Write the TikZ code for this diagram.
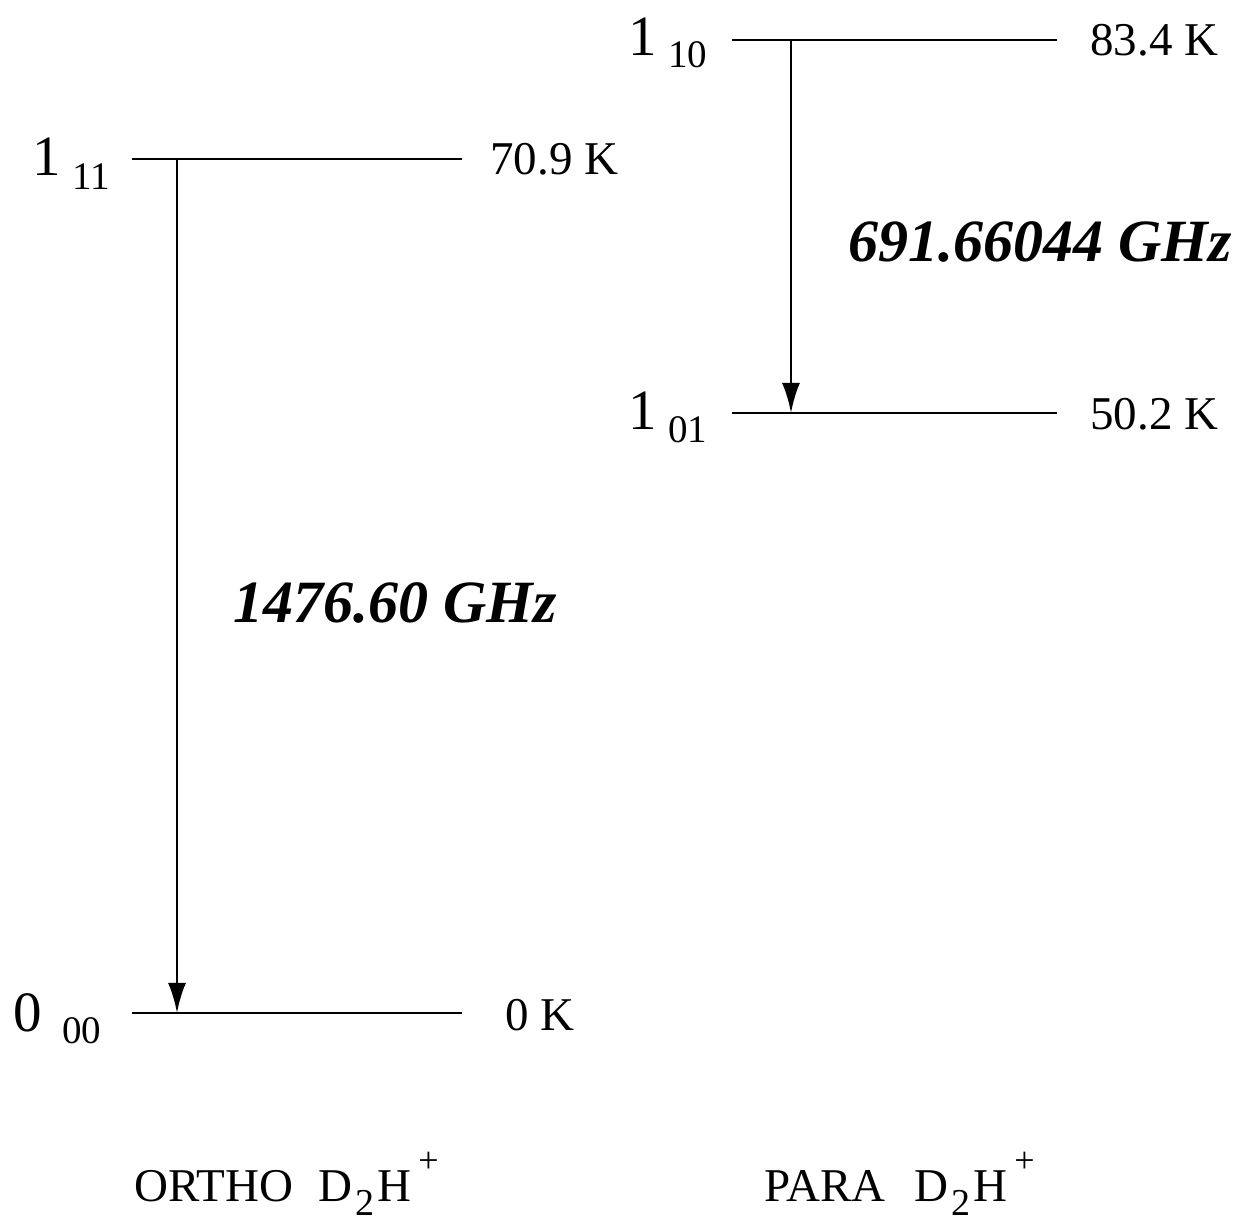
\documentclass[tikz,border=0pt]{standalone}
\usepackage{fontspec}
\setmainfont{Liberation Serif}
\usetikzlibrary{arrows.meta, positioning}

\newcommand{\dtwoh}{D\kern1.5pt\raisebox{-0.28em}{\fontsize{19}{20}\selectfont 2}\kern1.5pt H\kern3.5pt\raisebox{0.62em}{\fontsize{18}{20}\selectfont +}}

\begin{document}
\begin{tikzpicture}[x=0.5pt, y=-0.5pt, >={Latex[length=15pt, width=9pt]},
    level/.style={line width=1pt},
    trans/.style={->, line width=1.4pt},
    temp/.style={anchor=west, inner sep=0pt, font=\fontsize{23.5}{28}\selectfont},
    jbig/.style={anchor=base east, inner sep=0pt, font=\fontsize{28.5}{32}\selectfont},
    jsub/.style={anchor=base west, inner sep=0pt, font=\fontsize{19.5}{22}\selectfont},
    freq/.style={anchor=base west, inner sep=0pt, font=\fontsize{30}{36}\selectfont\bfseries\itshape},
    species/.style={anchor=base west, inner sep=0pt, font=\fontsize{23.5}{28}\selectfont}]
    \useasboundingbox (0,0) rectangle (1239,1224);

    % energy levels
    \foreach \lev/\xa/\xb/\y in {o111/132/462/159, o000/132/462/1013, p110/732/1057/40, p101/732/1057/413} {
        \coordinate (\lev-l) at (\xa,\y);
        \coordinate (\lev-r) at (\xb,\y);
        \draw[level] (\lev-l) -- (\lev-r);
    };

    % transitions
    \coordinate (o-up) at (177,159);
    \coordinate (o-down) at (177,1013);
    \coordinate (p-up) at (791,40);
    \coordinate (p-down) at (791,413);
    \draw[trans] (o-up) -- (o-down);
    \draw[trans] (p-up) -- (p-down);

    % level names
    \node[jbig] (j111) at (61,176) {1};
    \node[jsub] (s111) at (72,190) {11};
    \node[jbig] (j000) at (42,1032) {0};
    \node[jsub] (s000) at (62,1044) {00};
    \node[jbig] (j110) at (657,56) {1};
    \node[jsub] (s110) at (668,68) {10};
    \node[jbig] (j101) at (657,430) {1};
    \node[jsub] (s101) at (668,443) {01};

    % energies
    \node[temp] (t111) at (490,159) {70.9 K};
    \node[temp] (t000) at (505,1015) {0 K};
    \node[temp] (t110) at (1090,40) {83.4 K};
    \node[temp] (t101) at (1090,414) {50.2 K};

    % frequencies
    \node[freq] (f-ortho) at (233,623) {1476.60 GHz};
    \node[freq] (f-para) at (848,262) {691.66044 GHz};

    % species
    \node[species] (ortho) at (134,1202) {ORTHO};
    \node[species] (ortho-ion) at (318,1202) {\dtwoh};
    \node[species] (para) at (764,1202) {PARA};
    \node[species] (para-ion) at (914,1202) {\dtwoh};
\end{tikzpicture}
\end{document}
